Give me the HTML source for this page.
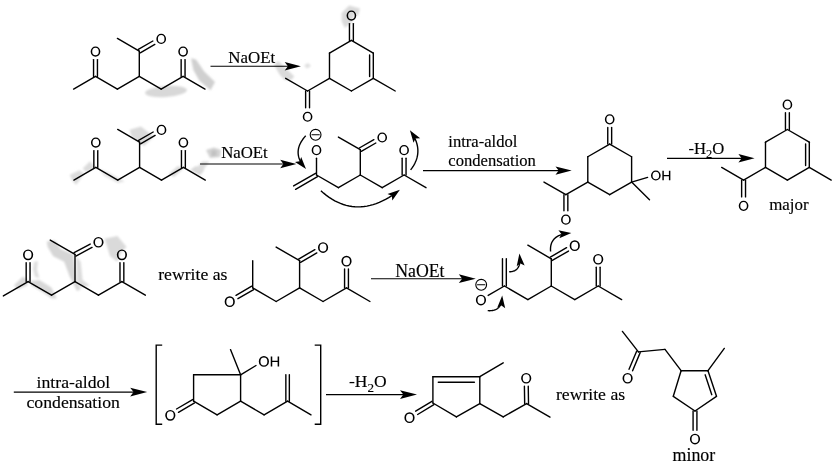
<!DOCTYPE html>
<html><head><meta charset="utf-8"><title>Reaction scheme</title>
<style>html,body{margin:0;padding:0;background:#fff;}svg{display:block;filter:grayscale(1);}</style></head>
<body><svg width="835" height="463" viewBox="0 0 835 463">
<rect width="835" height="463" fill="#fff"/>
<defs><filter id="bl" x="-20%" y="-20%" width="140%" height="140%"><feGaussianBlur stdDeviation="0.9"/></filter></defs>
<g filter="url(#bl)" stroke="none">
<ellipse cx="166" cy="91.5" rx="21" ry="5.5" transform="rotate(-4 166 91.5)" fill="#d8d8d8" opacity="1.0"/>
<polygon points="191.0,58.2 196.0,59.4 204.0,71.2 215.0,82.0 210.5,90.2 199.4,80.7 193.4,70.0" fill="#d0d0d0" opacity="1.0"/>
<polygon points="273.9,64.8 278.2,61.0 294.4,76.6 291.1,80.0 284.7,80.0 280.3,75.6" fill="#dadada" opacity="1.0"/>
<polygon points="304.0,65.5 308.0,63.0 311.0,66.0 307.0,68.5" fill="#e0e0e0" opacity="1.0"/>
<polygon points="341.6,13.0 349.2,5.4 360.0,8.6 357.8,16.2 354.6,13.0 352.0,22.0 345.0,28.0 341.6,21.6" fill="#dadada" opacity="1.0"/>
<polygon points="69.7,175.1 79.4,170.2 84.3,173.5 76.2,184.8 73.0,181.6" fill="#dcdcdc" opacity="1.0"/>
<polygon points="82.7,168.6 90.0,161.3 94.8,167.0 92.4,169.4 85.9,171.9" fill="#dcdcdc" opacity="1.0"/>
<polygon points="99.0,169.0 108.0,172.0 124.8,181.6 118.0,183.0 104.0,176.0" fill="#e6e6e6" opacity="1.0"/>
<polygon points="129.7,129.7 141.0,126.5 150.8,134.6 154.0,136.2 144.3,145.9 139.4,142.7 131.3,136.2" fill="#dadada" opacity="1.0"/>
<polygon points="109.4,175.3 118.0,178.0 123.6,181.2 116.0,182.0" fill="#dedede" opacity="1.0"/>
<polygon points="168.7,174.0 178.0,166.0 183.0,169.0 174.0,177.0" fill="#dadada" opacity="1.0"/>
<polygon points="190.0,170.0 196.0,166.0 204.4,170.0 200.0,175.3" fill="#d8d8d8" opacity="1.0"/>
<polygon points="194.6,170.0 202.3,161.5 209.3,161.5 202.3,171.3" fill="#dcdcdc" opacity="1.0"/>
<polygon points="206.0,150.0 214.0,147.5 221.0,150.0 220.0,157.0 210.0,158.0" fill="#d2d2d2" opacity="1.0"/>
<polygon points="212.3,150.5 213.4,150.5 213.4,156.0 212.3,156.0" fill="#a8a8a8" opacity="1.0"/>
<polygon points="214.8,150.5 216.0,150.5 216.0,156.0 214.8,156.0" fill="#b4b4b4" opacity="1.0"/>
<polygon points="13.8,285.6 22.9,276.4 27.5,280.0 27.5,285.6 18.3,289.2" fill="#d8d8d8" opacity="1.0"/>
<polygon points="30.3,281.0 39.4,280.0 51.4,287.4 56.9,298.4 51.4,298.4 44.0,292.9 31.2,285.6" fill="#d8d8d8" opacity="1.0"/>
<polygon points="46.8,241.5 55.0,240.6 60.6,248.9 73.4,254.4 76.1,280.0 80.7,289.2 77.0,291.0 69.7,276.4 64.2,261.7 53.2,256.2 47.7,247.0" fill="#d6d6d6" opacity="1.0"/>
<polygon points="34.0,262.0 38.0,261.0 37.0,270.0 39.4,278.0 35.0,277.0 33.0,269.0" fill="#dedede" opacity="1.0"/>
<polygon points="104.6,238.8 117.4,236.0 126.6,247.0 121.0,252.5 117.4,261.7 110.0,256.2 107.3,247.0" fill="#dadada" opacity="1.0"/>
<polygon points="76.1,256.2 80.7,261.7 82.6,280.0 89.9,285.5 80.7,287.4 77.0,280.0" fill="#dcdcdc" opacity="1.0"/>
</g>
<g stroke="#000" stroke-linecap="butt" fill="none">
<line x1="73.60" y1="89.05" x2="95.50" y2="76.40" stroke-width="1.4" stroke-linecap="round"/>
<line x1="95.50" y1="76.40" x2="117.40" y2="89.05" stroke-width="1.4" stroke-linecap="round"/>
<line x1="117.40" y1="89.05" x2="139.30" y2="76.40" stroke-width="1.4" stroke-linecap="round"/>
<line x1="139.30" y1="76.40" x2="161.20" y2="89.05" stroke-width="1.4" stroke-linecap="round"/>
<line x1="161.20" y1="89.05" x2="183.10" y2="76.40" stroke-width="1.4" stroke-linecap="round"/>
<line x1="183.10" y1="76.40" x2="205.00" y2="89.05" stroke-width="1.4" stroke-linecap="round"/>
<line x1="97.45" y1="76.40" x2="97.45" y2="59.60" stroke-width="1.4" stroke-linecap="round"/>
<line x1="93.55" y1="76.40" x2="93.55" y2="59.60" stroke-width="1.4" stroke-linecap="round"/>
<line x1="185.05" y1="76.40" x2="185.05" y2="59.60" stroke-width="1.4" stroke-linecap="round"/>
<line x1="181.15" y1="76.40" x2="181.15" y2="59.60" stroke-width="1.4" stroke-linecap="round"/>
<line x1="139.30" y1="76.40" x2="139.30" y2="51.10" stroke-width="1.4" stroke-linecap="round"/>
<line x1="139.30" y1="51.10" x2="117.40" y2="38.45" stroke-width="1.4" stroke-linecap="round"/>
<line x1="140.28" y1="52.79" x2="154.82" y2="44.39" stroke-width="1.4" stroke-linecap="round"/>
<line x1="138.32" y1="49.41" x2="152.86" y2="41.01" stroke-width="1.4" stroke-linecap="round"/>
<path fill-rule="evenodd" fill="#000" stroke="none" d="M90.65,51.55 a4.85,5.10 0 1,0 9.70,0 a4.85,5.10 0 1,0 -9.70,0 Z M92.20,51.55 a3.30,3.80 0 1,0 6.60,0 a3.30,3.80 0 1,0 -6.60,0 Z"/>
<path fill-rule="evenodd" fill="#000" stroke="none" d="M178.25,51.55 a4.85,5.10 0 1,0 9.70,0 a4.85,5.10 0 1,0 -9.70,0 Z M179.80,51.55 a3.30,3.80 0 1,0 6.60,0 a3.30,3.80 0 1,0 -6.60,0 Z"/>
<path fill-rule="evenodd" fill="#000" stroke="none" d="M156.35,38.90 a4.85,5.10 0 1,0 9.70,0 a4.85,5.10 0 1,0 -9.70,0 Z M157.90,38.90 a3.30,3.80 0 1,0 6.60,0 a3.30,3.80 0 1,0 -6.60,0 Z"/>
<line x1="210.50" y1="66.20" x2="290.90" y2="66.20" stroke-width="1.15"/>
<polygon points="300.90,66.20 284.70,62.00 287.90,66.20 284.70,70.40" fill="#000" stroke="none"/>
<text x="228.30" y="62.90" font-family="Liberation Serif, serif" font-size="16.9" stroke="#000" stroke-width="0.15" fill="#000">NaOEt</text>
<line x1="351.40" y1="40.40" x2="373.31" y2="53.05" stroke-width="1.4" stroke-linecap="round"/>
<line x1="373.31" y1="53.05" x2="373.31" y2="78.35" stroke-width="1.4" stroke-linecap="round"/>
<line x1="369.61" y1="54.95" x2="369.61" y2="76.45" stroke-width="1.4" stroke-linecap="round"/>
<line x1="373.31" y1="78.35" x2="351.40" y2="91.00" stroke-width="1.4" stroke-linecap="round"/>
<line x1="351.40" y1="91.00" x2="329.49" y2="78.35" stroke-width="1.4" stroke-linecap="round"/>
<line x1="329.49" y1="78.35" x2="329.49" y2="53.05" stroke-width="1.4" stroke-linecap="round"/>
<line x1="329.49" y1="53.05" x2="351.40" y2="40.40" stroke-width="1.4" stroke-linecap="round"/>
<line x1="353.35" y1="40.40" x2="353.35" y2="23.60" stroke-width="1.4" stroke-linecap="round"/>
<line x1="349.45" y1="40.40" x2="349.45" y2="23.60" stroke-width="1.4" stroke-linecap="round"/>
<path fill-rule="evenodd" fill="#000" stroke="none" d="M346.55,15.55 a4.85,5.10 0 1,0 9.70,0 a4.85,5.10 0 1,0 -9.70,0 Z M348.10,15.55 a3.30,3.80 0 1,0 6.60,0 a3.30,3.80 0 1,0 -6.60,0 Z"/>
<line x1="373.31" y1="78.35" x2="395.22" y2="91.00" stroke-width="1.4" stroke-linecap="round"/>
<line x1="329.49" y1="78.35" x2="307.58" y2="91.00" stroke-width="1.4" stroke-linecap="round"/>
<line x1="307.58" y1="91.00" x2="285.67" y2="78.35" stroke-width="1.4" stroke-linecap="round"/>
<line x1="305.63" y1="91.00" x2="305.63" y2="107.80" stroke-width="1.4" stroke-linecap="round"/>
<line x1="309.53" y1="91.00" x2="309.53" y2="107.80" stroke-width="1.4" stroke-linecap="round"/>
<path fill-rule="evenodd" fill="#000" stroke="none" d="M302.73,116.75 a4.85,5.10 0 1,0 9.70,0 a4.85,5.10 0 1,0 -9.70,0 Z M304.28,116.75 a3.30,3.80 0 1,0 6.60,0 a3.30,3.80 0 1,0 -6.60,0 Z"/>
<line x1="73.90" y1="180.05" x2="95.80" y2="167.40" stroke-width="1.4" stroke-linecap="round"/>
<line x1="95.80" y1="167.40" x2="117.70" y2="180.05" stroke-width="1.4" stroke-linecap="round"/>
<line x1="117.70" y1="180.05" x2="139.60" y2="167.40" stroke-width="1.4" stroke-linecap="round"/>
<line x1="139.60" y1="167.40" x2="161.50" y2="180.05" stroke-width="1.4" stroke-linecap="round"/>
<line x1="161.50" y1="180.05" x2="183.40" y2="167.40" stroke-width="1.4" stroke-linecap="round"/>
<line x1="183.40" y1="167.40" x2="205.30" y2="180.05" stroke-width="1.4" stroke-linecap="round"/>
<line x1="97.75" y1="167.40" x2="97.75" y2="150.60" stroke-width="1.4" stroke-linecap="round"/>
<line x1="93.85" y1="167.40" x2="93.85" y2="150.60" stroke-width="1.4" stroke-linecap="round"/>
<line x1="185.35" y1="167.40" x2="185.35" y2="150.60" stroke-width="1.4" stroke-linecap="round"/>
<line x1="181.45" y1="167.40" x2="181.45" y2="150.60" stroke-width="1.4" stroke-linecap="round"/>
<line x1="139.60" y1="167.40" x2="139.60" y2="142.10" stroke-width="1.4" stroke-linecap="round"/>
<line x1="139.60" y1="142.10" x2="117.70" y2="129.45" stroke-width="1.4" stroke-linecap="round"/>
<line x1="140.58" y1="143.79" x2="155.12" y2="135.39" stroke-width="1.4" stroke-linecap="round"/>
<line x1="138.62" y1="140.41" x2="153.16" y2="132.01" stroke-width="1.4" stroke-linecap="round"/>
<path fill-rule="evenodd" fill="#000" stroke="none" d="M90.95,142.55 a4.85,5.10 0 1,0 9.70,0 a4.85,5.10 0 1,0 -9.70,0 Z M92.50,142.55 a3.30,3.80 0 1,0 6.60,0 a3.30,3.80 0 1,0 -6.60,0 Z"/>
<path fill-rule="evenodd" fill="#000" stroke="none" d="M178.55,142.55 a4.85,5.10 0 1,0 9.70,0 a4.85,5.10 0 1,0 -9.70,0 Z M180.10,142.55 a3.30,3.80 0 1,0 6.60,0 a3.30,3.80 0 1,0 -6.60,0 Z"/>
<path fill-rule="evenodd" fill="#000" stroke="none" d="M156.65,129.90 a4.85,5.10 0 1,0 9.70,0 a4.85,5.10 0 1,0 -9.70,0 Z M158.20,129.90 a3.30,3.80 0 1,0 6.60,0 a3.30,3.80 0 1,0 -6.60,0 Z"/>
<line x1="200.00" y1="164.00" x2="286.40" y2="164.00" stroke-width="1.15"/>
<polygon points="296.40,164.00 280.20,159.80 283.40,164.00 280.20,168.20" fill="#000" stroke="none"/>
<text x="221.20" y="158.00" font-family="Liberation Serif, serif" font-size="16.8" stroke="#000" stroke-width="0.15" fill="#000">NaOEt</text>
<line x1="295.58" y1="189.34" x2="317.48" y2="176.69" stroke-width="1.4" stroke-linecap="round"/>
<line x1="293.62" y1="185.96" x2="315.52" y2="173.31" stroke-width="1.4" stroke-linecap="round"/>
<line x1="316.50" y1="175.00" x2="338.40" y2="187.65" stroke-width="1.4" stroke-linecap="round"/>
<line x1="338.40" y1="187.65" x2="360.30" y2="175.00" stroke-width="1.4" stroke-linecap="round"/>
<line x1="360.30" y1="175.00" x2="382.20" y2="187.65" stroke-width="1.4" stroke-linecap="round"/>
<line x1="382.20" y1="187.65" x2="404.10" y2="175.00" stroke-width="1.4" stroke-linecap="round"/>
<line x1="404.10" y1="175.00" x2="426.00" y2="187.65" stroke-width="1.4" stroke-linecap="round"/>
<line x1="316.50" y1="175.00" x2="316.50" y2="158.20" stroke-width="1.4" stroke-linecap="round"/>
<line x1="406.05" y1="175.00" x2="406.05" y2="158.20" stroke-width="1.4" stroke-linecap="round"/>
<line x1="402.15" y1="175.00" x2="402.15" y2="158.20" stroke-width="1.4" stroke-linecap="round"/>
<line x1="360.30" y1="175.00" x2="360.30" y2="149.70" stroke-width="1.4" stroke-linecap="round"/>
<line x1="360.30" y1="149.70" x2="338.40" y2="137.05" stroke-width="1.4" stroke-linecap="round"/>
<line x1="361.28" y1="151.39" x2="375.82" y2="142.99" stroke-width="1.4" stroke-linecap="round"/>
<line x1="359.32" y1="148.01" x2="373.86" y2="139.61" stroke-width="1.4" stroke-linecap="round"/>
<path fill-rule="evenodd" fill="#000" stroke="none" d="M311.65,150.15 a4.85,5.10 0 1,0 9.70,0 a4.85,5.10 0 1,0 -9.70,0 Z M313.20,150.15 a3.30,3.80 0 1,0 6.60,0 a3.30,3.80 0 1,0 -6.60,0 Z"/>
<path fill-rule="evenodd" fill="#000" stroke="none" d="M399.25,150.15 a4.85,5.10 0 1,0 9.70,0 a4.85,5.10 0 1,0 -9.70,0 Z M400.80,150.15 a3.30,3.80 0 1,0 6.60,0 a3.30,3.80 0 1,0 -6.60,0 Z"/>
<path fill-rule="evenodd" fill="#000" stroke="none" d="M377.35,137.50 a4.85,5.10 0 1,0 9.70,0 a4.85,5.10 0 1,0 -9.70,0 Z M378.90,137.50 a3.30,3.80 0 1,0 6.60,0 a3.30,3.80 0 1,0 -6.60,0 Z"/>
<circle cx="315.60" cy="134.80" r="5.4" fill="none" stroke-width="1.1"/>
<line x1="311.90" y1="134.80" x2="319.30" y2="134.80" stroke-width="1.1" stroke-linecap="round"/>
<path d="M305.70,135.80 L304.76,136.86 L303.89,137.91 L303.07,138.97 L302.32,140.03 L301.63,141.09 L301.00,142.14 L300.44,143.20 L299.93,144.25 L299.49,145.31 L299.11,146.37 L298.79,147.42 L298.53,148.48 L298.34,149.53 L298.21,150.59 L298.14,151.64 L298.13,152.70 L298.18,153.75 L298.30,154.81 L298.47,155.86 L298.71,156.91 L299.02,157.97 L299.38,159.02 L299.80,160.07 L300.29,161.13" fill="none" stroke-width="1.4"/>
<polygon points="306.00,169.10 295.00,161.95 299.68,161.35 301.19,156.89" fill="#000" stroke="none"/>
<path d="M320.90,190.80 L323.64,193.17 L326.39,195.36 L329.16,197.35 L331.96,199.16 L334.77,200.78 L337.60,202.21 L340.45,203.45 L343.32,204.49 L346.21,205.36 L349.12,206.03 L352.05,206.51 L355.00,206.80 L357.97,206.90 L360.96,206.82 L363.96,206.54 L366.99,206.08 L370.03,205.42 L373.10,204.58 L376.18,203.55 L379.29,202.33 L382.41,200.92 L385.55,199.32 L388.71,197.53 L391.89,195.55" fill="none" stroke-width="1.4"/>
<polygon points="399.90,189.80 392.28,200.49 391.89,195.78 387.49,194.08" fill="#000" stroke="none"/>
<path d="M410.60,169.90 L411.55,168.64 L412.44,167.38 L413.26,166.12 L414.02,164.85 L414.70,163.58 L415.32,162.30 L415.87,161.02 L416.36,159.74 L416.78,158.45 L417.13,157.15 L417.41,155.86 L417.63,154.55 L417.78,153.25 L417.86,151.94 L417.88,150.62 L417.82,149.31 L417.71,147.98 L417.52,146.66 L417.27,145.33 L416.95,143.99 L416.56,142.65 L416.11,141.31 L415.58,139.96 L415.00,138.61" fill="none" stroke-width="1.4"/>
<polygon points="409.90,130.20 420.18,138.36 415.47,138.51 413.53,142.81" fill="#000" stroke="none"/>
<line x1="423.00" y1="170.60" x2="561.70" y2="170.60" stroke-width="1.15"/>
<polygon points="571.70,170.60 555.50,166.40 558.70,170.60 555.50,174.80" fill="#000" stroke="none"/>
<text x="448.30" y="147.00" font-family="Liberation Serif, serif" font-size="16.6" stroke="#000" stroke-width="0.15" fill="#000">intra-aldol</text>
<text x="448.30" y="166.40" font-family="Liberation Serif, serif" font-size="16.6" stroke="#000" stroke-width="0.15" fill="#000">condensation</text>
<line x1="609.70" y1="144.10" x2="631.61" y2="156.75" stroke-width="1.4" stroke-linecap="round"/>
<line x1="631.61" y1="156.75" x2="631.61" y2="182.05" stroke-width="1.4" stroke-linecap="round"/>
<line x1="631.61" y1="182.05" x2="609.70" y2="194.70" stroke-width="1.4" stroke-linecap="round"/>
<line x1="609.70" y1="194.70" x2="587.79" y2="182.05" stroke-width="1.4" stroke-linecap="round"/>
<line x1="587.79" y1="182.05" x2="587.79" y2="156.75" stroke-width="1.4" stroke-linecap="round"/>
<line x1="587.79" y1="156.75" x2="609.70" y2="144.10" stroke-width="1.4" stroke-linecap="round"/>
<line x1="611.65" y1="144.10" x2="611.65" y2="127.40" stroke-width="1.4" stroke-linecap="round"/>
<line x1="607.75" y1="144.10" x2="607.75" y2="127.40" stroke-width="1.4" stroke-linecap="round"/>
<path fill-rule="evenodd" fill="#000" stroke="none" d="M604.85,119.35 a4.85,5.10 0 1,0 9.70,0 a4.85,5.10 0 1,0 -9.70,0 Z M606.40,119.35 a3.30,3.80 0 1,0 6.60,0 a3.30,3.80 0 1,0 -6.60,0 Z"/>
<line x1="631.61" y1="182.05" x2="647.60" y2="177.35" stroke-width="1.4" stroke-linecap="round"/>
<path fill-rule="evenodd" fill="#000" stroke="none" d="M650.99,175.50 a4.85,5.10 0 1,0 9.70,0 a4.85,5.10 0 1,0 -9.70,0 Z M652.54,175.50 a3.30,3.80 0 1,0 6.60,0 a3.30,3.80 0 1,0 -6.60,0 Z"/>
<path fill="#000" stroke="none" d="M662.37,170.85 h1.45 v9.50 h-1.45 Z M668.91,170.85 h1.45 v9.50 h-1.45 Z M663.09,174.88 h6.55 v1.25 h-6.55 Z"/>
<line x1="631.61" y1="182.05" x2="649.50" y2="199.80" stroke-width="1.4" stroke-linecap="round"/>
<line x1="587.79" y1="182.05" x2="565.89" y2="194.70" stroke-width="1.4" stroke-linecap="round"/>
<line x1="565.89" y1="194.70" x2="543.99" y2="182.05" stroke-width="1.4" stroke-linecap="round"/>
<line x1="563.94" y1="194.70" x2="563.94" y2="210.70" stroke-width="1.4" stroke-linecap="round"/>
<line x1="567.84" y1="194.70" x2="567.84" y2="210.70" stroke-width="1.4" stroke-linecap="round"/>
<path fill-rule="evenodd" fill="#000" stroke="none" d="M561.04,219.65 a4.85,5.10 0 1,0 9.70,0 a4.85,5.10 0 1,0 -9.70,0 Z M562.59,219.65 a3.30,3.80 0 1,0 6.60,0 a3.30,3.80 0 1,0 -6.60,0 Z"/>
<line x1="667.00" y1="158.30" x2="744.60" y2="158.30" stroke-width="1.15"/>
<polygon points="754.60,158.30 738.40,154.10 741.60,158.30 738.40,162.50" fill="#000" stroke="none"/>
<text x="688.50" y="154.20" font-family="Liberation Serif, serif" font-size="16.7" stroke="#000" stroke-width="0.15" fill="#000">-H<tspan font-size="12.5" dy="3.8">2</tspan><tspan dy="-3.8">O</tspan></text>
<line x1="787.40" y1="129.50" x2="809.31" y2="142.15" stroke-width="1.4" stroke-linecap="round"/>
<line x1="809.31" y1="142.15" x2="809.31" y2="167.45" stroke-width="1.4" stroke-linecap="round"/>
<line x1="805.61" y1="144.05" x2="805.61" y2="165.55" stroke-width="1.4" stroke-linecap="round"/>
<line x1="809.31" y1="167.45" x2="787.40" y2="180.10" stroke-width="1.4" stroke-linecap="round"/>
<line x1="787.40" y1="180.10" x2="765.49" y2="167.45" stroke-width="1.4" stroke-linecap="round"/>
<line x1="765.49" y1="167.45" x2="765.49" y2="142.15" stroke-width="1.4" stroke-linecap="round"/>
<line x1="765.49" y1="142.15" x2="787.40" y2="129.50" stroke-width="1.4" stroke-linecap="round"/>
<line x1="789.35" y1="129.50" x2="789.35" y2="112.70" stroke-width="1.4" stroke-linecap="round"/>
<line x1="785.45" y1="129.50" x2="785.45" y2="112.70" stroke-width="1.4" stroke-linecap="round"/>
<path fill-rule="evenodd" fill="#000" stroke="none" d="M782.55,104.65 a4.85,5.10 0 1,0 9.70,0 a4.85,5.10 0 1,0 -9.70,0 Z M784.10,104.65 a3.30,3.80 0 1,0 6.60,0 a3.30,3.80 0 1,0 -6.60,0 Z"/>
<line x1="809.31" y1="167.45" x2="831.22" y2="180.10" stroke-width="1.4" stroke-linecap="round"/>
<line x1="765.49" y1="167.45" x2="743.58" y2="180.10" stroke-width="1.4" stroke-linecap="round"/>
<line x1="743.58" y1="180.10" x2="721.67" y2="167.45" stroke-width="1.4" stroke-linecap="round"/>
<line x1="741.63" y1="180.10" x2="741.63" y2="196.90" stroke-width="1.4" stroke-linecap="round"/>
<line x1="745.53" y1="180.10" x2="745.53" y2="196.90" stroke-width="1.4" stroke-linecap="round"/>
<path fill-rule="evenodd" fill="#000" stroke="none" d="M738.73,205.85 a4.85,5.10 0 1,0 9.70,0 a4.85,5.10 0 1,0 -9.70,0 Z M740.28,205.85 a3.30,3.80 0 1,0 6.60,0 a3.30,3.80 0 1,0 -6.60,0 Z"/>
<text x="769.20" y="209.90" font-family="Liberation Serif, serif" font-size="16.9" stroke="#000" stroke-width="0.15" fill="#000">major</text>
<line x1="3.35" y1="295.95" x2="28.10" y2="281.60" stroke-width="1.4" stroke-linecap="round"/>
<line x1="28.10" y1="281.60" x2="51.55" y2="295.20" stroke-width="1.4" stroke-linecap="round"/>
<line x1="51.55" y1="295.20" x2="75.00" y2="281.60" stroke-width="1.4" stroke-linecap="round"/>
<line x1="75.00" y1="281.60" x2="98.45" y2="295.20" stroke-width="1.4" stroke-linecap="round"/>
<line x1="98.45" y1="295.20" x2="121.90" y2="281.60" stroke-width="1.4" stroke-linecap="round"/>
<line x1="121.90" y1="281.60" x2="145.35" y2="295.20" stroke-width="1.4" stroke-linecap="round"/>
<line x1="30.03" y1="281.60" x2="30.03" y2="262.75" stroke-width="1.4" stroke-linecap="round"/>
<line x1="26.18" y1="281.60" x2="26.18" y2="262.75" stroke-width="1.4" stroke-linecap="round"/>
<line x1="123.83" y1="281.60" x2="123.83" y2="262.75" stroke-width="1.4" stroke-linecap="round"/>
<line x1="119.98" y1="281.60" x2="119.98" y2="262.75" stroke-width="1.4" stroke-linecap="round"/>
<line x1="75.00" y1="281.60" x2="75.00" y2="254.40" stroke-width="1.4" stroke-linecap="round"/>
<line x1="75.00" y1="254.40" x2="50.25" y2="240.05" stroke-width="1.4" stroke-linecap="round"/>
<line x1="75.91" y1="256.10" x2="92.01" y2="247.45" stroke-width="1.4" stroke-linecap="round"/>
<line x1="74.09" y1="252.70" x2="90.18" y2="244.06" stroke-width="1.4" stroke-linecap="round"/>
<path fill-rule="evenodd" fill="#000" stroke="none" d="M23.01,254.85 a5.09,5.35 0 1,0 10.19,0 a5.09,5.35 0 1,0 -10.19,0 Z M24.64,254.85 a3.46,3.99 0 1,0 6.93,0 a3.46,3.99 0 1,0 -6.93,0 Z"/>
<path fill-rule="evenodd" fill="#000" stroke="none" d="M116.81,254.85 a5.09,5.35 0 1,0 10.19,0 a5.09,5.35 0 1,0 -10.19,0 Z M118.44,254.85 a3.46,3.99 0 1,0 6.93,0 a3.46,3.99 0 1,0 -6.93,0 Z"/>
<path fill-rule="evenodd" fill="#000" stroke="none" d="M93.36,242.25 a5.09,5.35 0 1,0 10.19,0 a5.09,5.35 0 1,0 -10.19,0 Z M94.98,242.25 a3.46,3.99 0 1,0 6.93,0 a3.46,3.99 0 1,0 -6.93,0 Z"/>
<text x="158.20" y="279.60" font-family="Liberation Serif, serif" font-size="17.7" stroke="#000" stroke-width="0.15" fill="#000">rewrite as</text>
<line x1="252.70" y1="260.70" x2="252.70" y2="287.90" stroke-width="1.4" stroke-linecap="round"/>
<line x1="252.70" y1="287.90" x2="276.15" y2="301.50" stroke-width="1.4" stroke-linecap="round"/>
<line x1="276.15" y1="301.50" x2="299.60" y2="287.90" stroke-width="1.4" stroke-linecap="round"/>
<line x1="299.60" y1="287.90" x2="323.05" y2="301.50" stroke-width="1.4" stroke-linecap="round"/>
<line x1="323.05" y1="301.50" x2="346.50" y2="287.90" stroke-width="1.4" stroke-linecap="round"/>
<line x1="346.50" y1="287.90" x2="369.95" y2="301.50" stroke-width="1.4" stroke-linecap="round"/>
<line x1="251.73" y1="286.23" x2="236.01" y2="295.35" stroke-width="1.4" stroke-linecap="round"/>
<line x1="253.67" y1="289.57" x2="237.94" y2="298.68" stroke-width="1.4" stroke-linecap="round"/>
<line x1="348.43" y1="287.90" x2="348.43" y2="269.05" stroke-width="1.4" stroke-linecap="round"/>
<line x1="344.57" y1="287.90" x2="344.57" y2="269.05" stroke-width="1.4" stroke-linecap="round"/>
<line x1="299.60" y1="287.90" x2="299.60" y2="260.70" stroke-width="1.4" stroke-linecap="round"/>
<line x1="299.60" y1="260.70" x2="276.15" y2="247.10" stroke-width="1.4" stroke-linecap="round"/>
<line x1="300.57" y1="262.37" x2="316.79" y2="252.95" stroke-width="1.4" stroke-linecap="round"/>
<line x1="298.63" y1="259.03" x2="314.86" y2="249.62" stroke-width="1.4" stroke-linecap="round"/>
<path fill-rule="evenodd" fill="#000" stroke="none" d="M224.66,301.65 a5.09,5.35 0 1,0 10.19,0 a5.09,5.35 0 1,0 -10.19,0 Z M226.29,301.65 a3.46,3.99 0 1,0 6.93,0 a3.46,3.99 0 1,0 -6.93,0 Z"/>
<path fill-rule="evenodd" fill="#000" stroke="none" d="M341.41,261.15 a5.09,5.35 0 1,0 10.19,0 a5.09,5.35 0 1,0 -10.19,0 Z M343.04,261.15 a3.46,3.99 0 1,0 6.93,0 a3.46,3.99 0 1,0 -6.93,0 Z"/>
<path fill-rule="evenodd" fill="#000" stroke="none" d="M317.96,247.55 a5.09,5.35 0 1,0 10.19,0 a5.09,5.35 0 1,0 -10.19,0 Z M319.59,247.55 a3.46,3.99 0 1,0 6.93,0 a3.46,3.99 0 1,0 -6.93,0 Z"/>
<line x1="371.00" y1="278.70" x2="465.80" y2="278.70" stroke-width="1.15"/>
<polygon points="475.80,278.70 458.79,274.29 462.15,278.70 458.79,283.11" fill="#000" stroke="none"/>
<text x="395.20" y="276.90" font-family="Liberation Serif, serif" font-size="17.8" stroke="#000" stroke-width="0.15" fill="#000">NaOEt</text>
<line x1="502.47" y1="258.80" x2="502.47" y2="286.00" stroke-width="1.4" stroke-linecap="round"/>
<line x1="506.32" y1="258.80" x2="506.32" y2="286.00" stroke-width="1.4" stroke-linecap="round"/>
<line x1="504.40" y1="286.00" x2="527.85" y2="299.60" stroke-width="1.4" stroke-linecap="round"/>
<line x1="527.85" y1="299.60" x2="551.30" y2="286.00" stroke-width="1.4" stroke-linecap="round"/>
<line x1="551.30" y1="286.00" x2="574.75" y2="299.60" stroke-width="1.4" stroke-linecap="round"/>
<line x1="574.75" y1="299.60" x2="598.20" y2="286.00" stroke-width="1.4" stroke-linecap="round"/>
<line x1="598.20" y1="286.00" x2="621.65" y2="299.60" stroke-width="1.4" stroke-linecap="round"/>
<line x1="504.40" y1="286.00" x2="488.17" y2="295.41" stroke-width="1.4" stroke-linecap="round"/>
<line x1="600.12" y1="286.00" x2="600.12" y2="267.15" stroke-width="1.4" stroke-linecap="round"/>
<line x1="596.27" y1="286.00" x2="596.27" y2="267.15" stroke-width="1.4" stroke-linecap="round"/>
<line x1="551.30" y1="286.00" x2="551.30" y2="258.80" stroke-width="1.4" stroke-linecap="round"/>
<line x1="551.30" y1="258.80" x2="527.85" y2="245.20" stroke-width="1.4" stroke-linecap="round"/>
<line x1="552.27" y1="260.47" x2="568.49" y2="251.05" stroke-width="1.4" stroke-linecap="round"/>
<line x1="550.33" y1="257.13" x2="566.56" y2="247.72" stroke-width="1.4" stroke-linecap="round"/>
<path fill-rule="evenodd" fill="#000" stroke="none" d="M475.86,300.05 a5.09,5.35 0 1,0 10.19,0 a5.09,5.35 0 1,0 -10.19,0 Z M477.49,300.05 a3.46,3.99 0 1,0 6.93,0 a3.46,3.99 0 1,0 -6.93,0 Z"/>
<path fill-rule="evenodd" fill="#000" stroke="none" d="M593.11,259.25 a5.09,5.35 0 1,0 10.19,0 a5.09,5.35 0 1,0 -10.19,0 Z M594.73,259.25 a3.46,3.99 0 1,0 6.93,0 a3.46,3.99 0 1,0 -6.93,0 Z"/>
<path fill-rule="evenodd" fill="#000" stroke="none" d="M569.66,245.65 a5.09,5.35 0 1,0 10.19,0 a5.09,5.35 0 1,0 -10.19,0 Z M571.28,245.65 a3.46,3.99 0 1,0 6.93,0 a3.46,3.99 0 1,0 -6.93,0 Z"/>
<circle cx="481.20" cy="284.80" r="5.4" fill="none" stroke-width="1.1"/>
<line x1="477.50" y1="284.80" x2="484.90" y2="284.80" stroke-width="1.1" stroke-linecap="round"/>
<path d="M509.20,271.80 L509.94,271.77 L510.65,271.71 L511.33,271.62 L511.99,271.51 L512.62,271.36 L513.23,271.19 L513.81,270.99 L514.36,270.77 L514.89,270.51 L515.39,270.23 L515.87,269.91 L516.32,269.58 L516.74,269.21 L517.14,268.81 L517.51,268.39 L517.86,267.93 L518.18,267.45 L518.47,266.95 L518.74,266.41 L518.98,265.85 L519.20,265.25 L519.39,264.63 L519.55,263.98 L519.69,263.31" fill="none" stroke-width="1.4"/>
<polygon points="519.40,253.50 524.66,265.52 520.43,263.45 516.71,266.35" fill="#000" stroke="none"/>
<path d="M487.70,310.60 L488.47,310.65 L489.21,310.68 L489.94,310.68 L490.64,310.66 L491.32,310.61 L491.99,310.54 L492.63,310.45 L493.25,310.33 L493.85,310.19 L494.43,310.02 L494.99,309.83 L495.53,309.62 L496.04,309.38 L496.54,309.12 L497.01,308.83 L497.47,308.52 L497.90,308.19 L498.31,307.83 L498.71,307.44 L499.08,307.04 L499.43,306.61 L499.76,306.15 L500.07,305.67 L500.35,305.17" fill="none" stroke-width="1.4"/>
<polygon points="502.20,295.50 505.21,308.28 501.42,305.47 497.23,307.65" fill="#000" stroke="none"/>
<path d="M550.60,251.50 L550.52,250.44 L550.49,249.41 L550.51,248.40 L550.57,247.44 L550.68,246.50 L550.84,245.59 L551.04,244.71 L551.29,243.87 L551.58,243.05 L551.92,242.27 L552.31,241.52 L552.75,240.80 L553.23,240.11 L553.75,239.45 L554.33,238.82 L554.95,238.22 L555.61,237.66 L556.33,237.12 L557.09,236.62 L557.89,236.15 L558.74,235.71 L559.64,235.30 L560.59,234.92 L561.58,234.57" fill="none" stroke-width="1.4"/>
<polygon points="571.30,232.90 559.34,238.31 561.37,234.05 558.42,230.36" fill="#000" stroke="none"/>
<line x1="13.80" y1="392.10" x2="137.20" y2="392.10" stroke-width="1.15"/>
<polygon points="147.20,392.10 130.19,387.69 133.55,392.10 130.19,396.51" fill="#000" stroke="none"/>
<text x="36.60" y="387.50" font-family="Liberation Serif, serif" font-size="17.7" stroke="#000" stroke-width="0.15" fill="#000">intra-aldol</text>
<text x="26.50" y="407.70" font-family="Liberation Serif, serif" font-size="17.7" stroke="#000" stroke-width="0.15" fill="#000">condensation</text>
<path d="M162.20,345.10 H156.20 V424.30 H162.20" fill="none" stroke-width="1.4"/>
<path d="M314.70,345.10 H320.70 V424.30 H314.70" fill="none" stroke-width="1.4"/>
<line x1="193.60" y1="401.20" x2="193.60" y2="374.80" stroke-width="1.4" stroke-linecap="round"/>
<line x1="193.60" y1="374.80" x2="240.60" y2="374.80" stroke-width="1.4" stroke-linecap="round"/>
<line x1="240.60" y1="374.80" x2="240.60" y2="401.20" stroke-width="1.4" stroke-linecap="round"/>
<line x1="240.60" y1="401.20" x2="217.10" y2="414.80" stroke-width="1.4" stroke-linecap="round"/>
<line x1="217.10" y1="414.80" x2="193.60" y2="401.20" stroke-width="1.4" stroke-linecap="round"/>
<line x1="192.62" y1="399.54" x2="176.52" y2="409.01" stroke-width="1.4" stroke-linecap="round"/>
<line x1="194.58" y1="402.86" x2="178.47" y2="412.33" stroke-width="1.4" stroke-linecap="round"/>
<path fill-rule="evenodd" fill="#000" stroke="none" d="M165.21,415.35 a5.09,5.35 0 1,0 10.19,0 a5.09,5.35 0 1,0 -10.19,0 Z M166.84,415.35 a3.46,3.99 0 1,0 6.93,0 a3.46,3.99 0 1,0 -6.93,0 Z"/>
<line x1="240.60" y1="374.80" x2="230.50" y2="349.60" stroke-width="1.4" stroke-linecap="round"/>
<line x1="240.60" y1="374.80" x2="256.00" y2="365.50" stroke-width="1.4" stroke-linecap="round"/>
<path fill-rule="evenodd" fill="#000" stroke="none" d="M258.80,361.40 a5.09,5.35 0 1,0 10.19,0 a5.09,5.35 0 1,0 -10.19,0 Z M260.43,361.40 a3.46,3.99 0 1,0 6.93,0 a3.46,3.99 0 1,0 -6.93,0 Z"/>
<path fill="#000" stroke="none" d="M270.74,356.51 h1.52 v9.97 h-1.52 Z M277.62,356.51 h1.52 v9.97 h-1.52 Z M271.50,360.74 h6.88 v1.31 h-6.88 Z"/>
<line x1="240.60" y1="401.20" x2="264.10" y2="414.80" stroke-width="1.4" stroke-linecap="round"/>
<line x1="264.10" y1="414.80" x2="287.60" y2="401.20" stroke-width="1.4" stroke-linecap="round"/>
<line x1="289.35" y1="401.20" x2="289.35" y2="374.80" stroke-width="1.4" stroke-linecap="round"/>
<line x1="285.85" y1="401.20" x2="285.85" y2="374.80" stroke-width="1.4" stroke-linecap="round"/>
<line x1="287.60" y1="401.20" x2="311.00" y2="414.80" stroke-width="1.4" stroke-linecap="round"/>
<line x1="326.00" y1="394.60" x2="407.00" y2="394.60" stroke-width="1.15"/>
<polygon points="417.00,394.60 399.99,390.19 403.35,394.60 399.99,399.01" fill="#000" stroke="none"/>
<text x="349.00" y="387.30" font-family="Liberation Serif, serif" font-size="17.5" stroke="#000" stroke-width="0.15" fill="#000">-H<tspan font-size="13.1" dy="4.3">2</tspan><tspan dy="-4.3">O</tspan></text>
<line x1="432.90" y1="403.00" x2="432.90" y2="376.70" stroke-width="1.4" stroke-linecap="round"/>
<line x1="432.90" y1="376.70" x2="479.80" y2="376.70" stroke-width="1.4" stroke-linecap="round"/>
<line x1="438.30" y1="382.20" x2="474.40" y2="382.20" stroke-width="1.4" stroke-linecap="round"/>
<line x1="479.80" y1="376.70" x2="479.80" y2="403.60" stroke-width="1.4" stroke-linecap="round"/>
<line x1="479.80" y1="403.60" x2="456.40" y2="416.90" stroke-width="1.4" stroke-linecap="round"/>
<line x1="456.40" y1="416.90" x2="432.90" y2="403.00" stroke-width="1.4" stroke-linecap="round"/>
<line x1="431.90" y1="401.35" x2="415.64" y2="411.22" stroke-width="1.4" stroke-linecap="round"/>
<line x1="433.90" y1="404.65" x2="417.64" y2="414.51" stroke-width="1.4" stroke-linecap="round"/>
<path fill-rule="evenodd" fill="#000" stroke="none" d="M404.41,417.65 a5.09,5.35 0 1,0 10.19,0 a5.09,5.35 0 1,0 -10.19,0 Z M406.04,417.65 a3.46,3.99 0 1,0 6.93,0 a3.46,3.99 0 1,0 -6.93,0 Z"/>
<line x1="479.80" y1="376.70" x2="503.20" y2="362.80" stroke-width="1.4" stroke-linecap="round"/>
<line x1="479.80" y1="403.60" x2="503.20" y2="416.90" stroke-width="1.4" stroke-linecap="round"/>
<line x1="503.20" y1="416.90" x2="526.60" y2="403.60" stroke-width="1.4" stroke-linecap="round"/>
<line x1="526.60" y1="403.60" x2="550.00" y2="417.10" stroke-width="1.4" stroke-linecap="round"/>
<line x1="528.52" y1="403.57" x2="528.25" y2="386.12" stroke-width="1.4" stroke-linecap="round"/>
<line x1="524.68" y1="403.63" x2="524.40" y2="386.18" stroke-width="1.4" stroke-linecap="round"/>
<path fill-rule="evenodd" fill="#000" stroke="none" d="M521.11,378.25 a5.09,5.35 0 1,0 10.19,0 a5.09,5.35 0 1,0 -10.19,0 Z M522.74,378.25 a3.46,3.99 0 1,0 6.93,0 a3.46,3.99 0 1,0 -6.93,0 Z"/>
<text x="555.90" y="399.70" font-family="Liberation Serif, serif" font-size="17.7" stroke="#000" stroke-width="0.15" fill="#000">rewrite as</text>
<line x1="681.10" y1="370.70" x2="708.00" y2="370.70" stroke-width="1.4" stroke-linecap="round"/>
<line x1="708.00" y1="370.70" x2="716.50" y2="396.30" stroke-width="1.4" stroke-linecap="round"/>
<line x1="705.15" y1="374.81" x2="711.76" y2="394.71" stroke-width="1.4" stroke-linecap="round"/>
<line x1="716.50" y1="396.30" x2="695.00" y2="411.00" stroke-width="1.4" stroke-linecap="round"/>
<line x1="695.00" y1="411.00" x2="673.30" y2="396.30" stroke-width="1.4" stroke-linecap="round"/>
<line x1="673.30" y1="396.30" x2="681.10" y2="370.70" stroke-width="1.4" stroke-linecap="round"/>
<line x1="693.08" y1="411.00" x2="693.08" y2="430.25" stroke-width="1.4" stroke-linecap="round"/>
<line x1="696.92" y1="411.00" x2="696.92" y2="430.25" stroke-width="1.4" stroke-linecap="round"/>
<path fill-rule="evenodd" fill="#000" stroke="none" d="M689.91,439.05 a5.09,5.35 0 1,0 10.19,0 a5.09,5.35 0 1,0 -10.19,0 Z M691.53,439.05 a3.46,3.99 0 1,0 6.93,0 a3.46,3.99 0 1,0 -6.93,0 Z"/>
<line x1="708.00" y1="370.70" x2="724.30" y2="348.40" stroke-width="1.4" stroke-linecap="round"/>
<line x1="681.10" y1="370.70" x2="665.00" y2="349.40" stroke-width="1.4" stroke-linecap="round"/>
<line x1="665.00" y1="349.40" x2="638.40" y2="351.90" stroke-width="1.4" stroke-linecap="round"/>
<line x1="638.40" y1="351.90" x2="622.40" y2="331.40" stroke-width="1.4" stroke-linecap="round"/>
<line x1="636.62" y1="351.16" x2="629.04" y2="369.35" stroke-width="1.4" stroke-linecap="round"/>
<line x1="640.18" y1="352.64" x2="632.59" y2="370.83" stroke-width="1.4" stroke-linecap="round"/>
<path fill-rule="evenodd" fill="#000" stroke="none" d="M622.51,378.25 a5.09,5.35 0 1,0 10.19,0 a5.09,5.35 0 1,0 -10.19,0 Z M624.13,378.25 a3.46,3.99 0 1,0 6.93,0 a3.46,3.99 0 1,0 -6.93,0 Z"/>
<text x="672.50" y="460.70" font-family="Liberation Serif, serif" font-size="17.9" stroke="#000" stroke-width="0.15" fill="#000">minor</text>
</g>
</svg></body></html>
